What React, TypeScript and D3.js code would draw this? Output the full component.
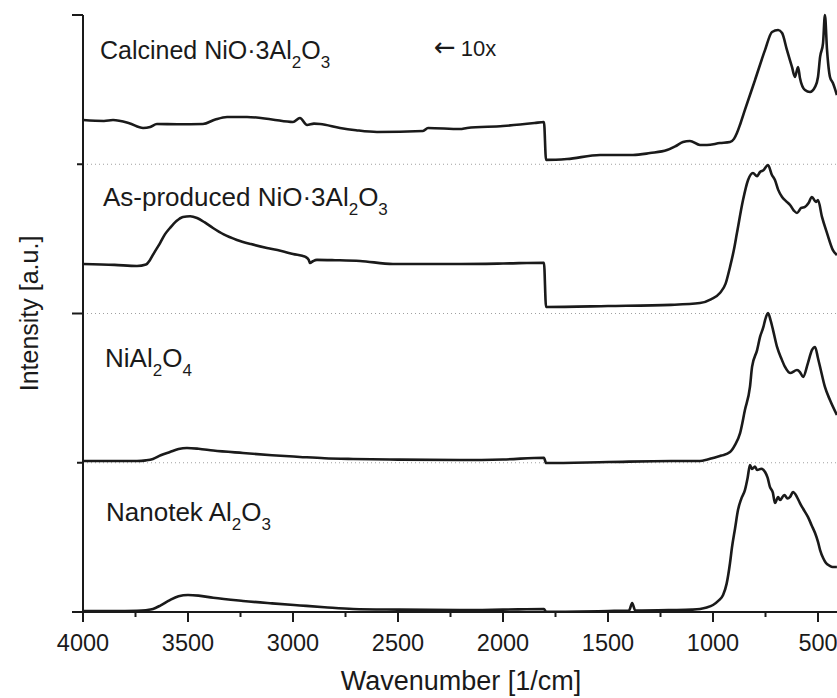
import React from "react";
import * as d3 from "d3";

// Wavenumber [1/cm] and stacked intensity [a.u.] (each band = 1 unit)
const nanotekW = [4000, 3800, 3743, 3700, 3667, 3630, 3586, 3545, 3500, 3450, 3380, 3238, 3100, 2967, 2850, 2714, 2500, 2205, 2000, 1805, 1795, 1500, 1400, 1385, 1370, 1200, 1100, 1062, 1030, 1000, 975, 952, 935, 919, 910, 895, 881, 865, 848, 835, 824, 814, 800, 790, 770, 752, 740, 729, 715, 705, 690, 681, 660, 645, 633, 619, 600, 586, 570, 548, 530, 514, 500, 490, 475, 462, 445, 430, 410];
const nanotekV = [0.007, 0.007, 0.008, 0.012, 0.02, 0.045, 0.08, 0.105, 0.114, 0.11, 0.095, 0.074, 0.058, 0.044, 0.032, 0.02, 0.016, 0.013, 0.016, 0.02, 0.002, 0.007, 0.01, 0.06, 0.01, 0.013, 0.016, 0.02, 0.03, 0.047, 0.075, 0.114, 0.19, 0.328, 0.429, 0.56, 0.683, 0.76, 0.817, 0.9, 0.985, 0.958, 0.975, 0.951, 0.96, 0.938, 0.9, 0.838, 0.8, 0.73, 0.77, 0.75, 0.784, 0.76, 0.771, 0.804, 0.77, 0.73, 0.69, 0.637, 0.58, 0.529, 0.47, 0.415, 0.36, 0.328, 0.31, 0.302, 0.302];

const nialW = [4000, 3800, 3743, 3700, 3667, 3630, 3586, 3545, 3505, 3450, 3380, 3238, 3100, 2967, 2850, 2714, 2500, 2205, 2000, 1805, 1795, 1500, 1200, 1062, 1030, 1000, 960, 919, 895, 871, 848, 824, 814, 790, 776, 760, 752, 738, 725, 714, 695, 675, 657, 633, 600, 586, 571, 548, 529, 514, 500, 490, 467, 443, 410];
const nialV = [1.012, 1.012, 1.012, 1.016, 1.025, 1.05, 1.072, 1.092, 1.099, 1.094, 1.082, 1.065, 1.05, 1.039, 1.03, 1.025, 1.021, 1.018, 1.022, 1.034, 0.998, 1.005, 1.012, 1.012, 1.02, 1.032, 1.048, 1.072, 1.12, 1.199, 1.353, 1.508, 1.642, 1.755, 1.843, 1.91, 1.956, 2.003, 1.95, 1.889, 1.776, 1.7, 1.642, 1.601, 1.621, 1.608, 1.575, 1.668, 1.755, 1.776, 1.7, 1.642, 1.508, 1.42, 1.32];

const asProdW = [4000, 3850, 3743, 3700, 3681, 3660, 3633, 3610, 3586, 3555, 3524, 3490, 3457, 3420, 3381, 3330, 3267, 3200, 3124, 3060, 3000, 2940, 2925, 2919, 2905, 2886, 2800, 2681, 2524, 2205, 2000, 1805, 1795, 1500, 1200, 1062, 1010, 967, 940, 919, 900, 886, 857, 833, 810, 790, 776, 760, 738, 720, 705, 690, 671, 650, 633, 615, 600, 580, 562, 545, 529, 510, 500, 481, 457, 429, 410];
const asProdV = [2.332, 2.326, 2.318, 2.328, 2.359, 2.41, 2.472, 2.53, 2.573, 2.62, 2.647, 2.652, 2.64, 2.61, 2.573, 2.53, 2.493, 2.465, 2.439, 2.42, 2.399, 2.379, 2.36, 2.338, 2.35, 2.359, 2.357, 2.352, 2.332, 2.332, 2.335, 2.34, 2.044, 2.05, 2.058, 2.07, 2.095, 2.137, 2.2, 2.312, 2.43, 2.539, 2.76, 2.894, 2.941, 2.92, 2.948, 2.96, 2.995, 2.93, 2.894, 2.83, 2.781, 2.75, 2.727, 2.69, 2.673, 2.707, 2.714, 2.74, 2.781, 2.747, 2.76, 2.647, 2.539, 2.425, 2.392];

const calcW = [4000, 3900, 3857, 3780, 3714, 3680, 3648, 3550, 3429, 3370, 3314, 3219, 3100, 3000, 2967, 2933, 2900, 2871, 2776, 2700, 2600, 2381, 2357, 2205, 2171, 2000, 1850, 1805, 1795, 1695, 1538, 1381, 1300, 1219, 1180, 1143, 1110, 1062, 1029, 967, 919, 900, 886, 870, 848, 800, 752, 719, 690, 671, 648, 624, 610, 595, 586, 562, 538, 514, 500, 490, 476, 467, 457, 443, 429, 410];
const calcV = [3.296, 3.29, 3.296, 3.275, 3.243, 3.25, 3.27, 3.268, 3.27, 3.3, 3.317, 3.317, 3.3, 3.283, 3.31, 3.263, 3.272, 3.27, 3.243, 3.228, 3.216, 3.223, 3.243, 3.236, 3.243, 3.256, 3.276, 3.283, 3.029, 3.035, 3.062, 3.062, 3.075, 3.095, 3.12, 3.149, 3.156, 3.129, 3.129, 3.142, 3.149, 3.17, 3.209, 3.27, 3.364, 3.564, 3.766, 3.886, 3.899, 3.879, 3.766, 3.652, 3.585, 3.652, 3.578, 3.497, 3.484, 3.518, 3.585, 3.719, 3.812, 4.0, 3.766, 3.585, 3.544, 3.464];

const xMajorTicks = [4000, 3500, 3000, 2500, 2000, 1500, 1000, 500];
const xMinorTicks = [3750, 3250, 2750, 2250, 1750, 1250, 750];
const yMajorTicks = [0, 2, 4];
const yMinorTicks = [1, 3];
const gridValues = [1, 2, 3];

const W = 837;
const H = 698;
const left = 83;
const top = 15;
const bottom = 612;

const font = "'Liberation Sans', Arial, Helvetica, sans-serif";

export default function App() {
  const x = d3.scaleLinear().domain([4000, 500]).range([left, left + 3500 * 0.21]);
  const y = d3.scaleLinear().domain([0, 4]).range([bottom, top]);
  const line = d3
    .line<[number, number]>()
    .x((d) => x(d[0]))
    .y((d) => y(d[1]))
    .curve(d3.curveMonotoneX);

  const series: [number[], number[]][] = [
    [nanotekW, nanotekV],
    [nialW, nialV],
    [asProdW, asProdV],
    [calcW, calcV],
  ];

  const sub = (t: string) => (
    <tspan fontSize={17} dy={9}>
      {t}
    </tspan>
  );
  const up = (t: string) => <tspan dy={-9}>{t}</tspan>;

  return (
    <svg
      width={W}
      height={H}
      style={{ position: "absolute", left: 0, top: 0, background: "#fff" }}
      fontFamily={font}
    >
      <rect x={0} y={0} width={W} height={H} fill="#fff" />
      {gridValues.map((g) => (
        <line
          key={"g" + g}
          x1={left}
          x2={W}
          y1={y(g)}
          y2={y(g)}
          stroke="#a0a0a0"
          strokeWidth={1}
          strokeDasharray="1,3"
        />
      ))}
      {series.map(([ws, vs], i) => (
        <path
          key={"s" + i}
          d={line(ws.map((w, j) => [w, vs[j]] as [number, number])) || ""}
          fill="none"
          stroke="#1a1a1a"
          strokeWidth={2.6}
          strokeLinejoin="round"
        />
      ))}
      <line x1={left} x2={left} y1={top} y2={bottom} stroke="#1a1a1a" strokeWidth={2} />
      <line x1={left} x2={W} y1={bottom} y2={bottom} stroke="#1a1a1a" strokeWidth={2} />
      {yMajorTicks.map((t) => (
        <line key={"ym" + t} x1={left - 11} x2={left} y1={y(t)} y2={y(t)} stroke="#1a1a1a" strokeWidth={2} />
      ))}
      {yMinorTicks.map((t) => (
        <line key={"yn" + t} x1={left - 6} x2={left} y1={y(t)} y2={y(t)} stroke="#1a1a1a" strokeWidth={2} />
      ))}
      {xMajorTicks.map((t) => (
        <g key={"xm" + t}>
          <line x1={x(t)} x2={x(t)} y1={bottom} y2={bottom + 10} stroke="#1a1a1a" strokeWidth={2} />
          <text x={x(t)} y={651} textAnchor="middle" fontSize={23.5} fill="#1a1a1a">
            {t}
          </text>
        </g>
      ))}
      {xMinorTicks.map((t) => (
        <line key={"xn" + t} x1={x(t)} x2={x(t)} y1={bottom} y2={bottom + 5} stroke="#1a1a1a" strokeWidth={2} />
      ))}
      <text x={461} y={690} textAnchor="middle" fontSize={27} fill="#1a1a1a">
        Wavenumber [1/cm]
      </text>
      <text
        transform={`translate(38,${(top + bottom) / 2}) rotate(-90)`}
        textAnchor="middle"
        fontSize={25}
        fill="#1a1a1a"
      >
        Intensity [a.u.]
      </text>
      <text x={100} y={59} fontSize={25} fill="#1a1a1a">
        Calcined NiO·3Al{sub("2")}
        {up("O")}
        {sub("3")}
      </text>
      <text x={103} y={206} fontSize={26} fill="#1a1a1a">
        As-produced NiO·3Al{sub("2")}
        {up("O")}
        {sub("3")}
      </text>
      <text x={105} y={367} fontSize={26} fill="#1a1a1a">
        NiAl{sub("2")}
        {up("O")}
        {sub("4")}
      </text>
      <text x={106} y={521} fontSize={26} fill="#1a1a1a">
        Nanotek Al{sub("2")}
        {up("O")}
        {sub("3")}
      </text>
      <text x={434} y={56} fontSize={22} fill="#1a1a1a">
        <tspan fontFamily="'DejaVu Sans', sans-serif" fontSize={26}>←</tspan>
        <tspan dx={5}>10x</tspan>
      </text>
    </svg>
  );
}
